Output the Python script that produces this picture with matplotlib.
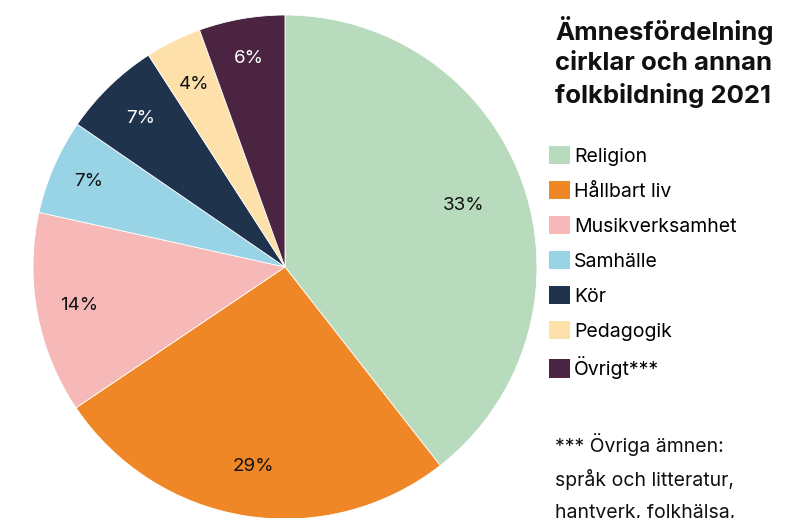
import numpy as np
import matplotlib
matplotlib.use("Agg")
import matplotlib.pyplot as plt
from matplotlib.patches import Patch

plt.rcParams['font.family'] = ['Inter', 'DejaVu Sans']

# data (wedge sizes as drawn, labels as printed)
categories = ["Religion", "Hållbart liv", "Musikverksamhet", "Samhälle", "Kör", "Pedagogik", "Övrigt***"]
shares = [39.4, 26.1, 12.9, 6.1, 6.3, 3.6, 5.5]
pct_labels = ["33%", "29%", "14%", "7%", "7%", "4%", "6%"]
colors = ["#b7dbbc", "#f08726", "#f7b9b8", "#98d3e6", "#20334d", "#fde0aa", "#4a2441"]
text_colors = ["#111111", "#111111", "#111111", "#111111", "white", "#111111", "white"]

title = "Ämnesfördelning\ncirklar och annan\nfolkbildning 2021"
footnote = ["*** Övriga ämnen:", "språk och litteratur,", "hantverk, folkhälsa,"]

fig = plt.figure(figsize=(8.04, 5.18), dpi=100)
ax = fig.add_axes([33/804, -1/518, 504/804, 504/518])
wedges, _ = ax.pie(shares, colors=colors, startangle=90, counterclock=False,
                   radius=1, wedgeprops=dict(linewidth=0.6, edgecolor="white"))
ax.set_xlim(-1, 1)
ax.set_ylim(-1, 1)
ax.set_aspect("equal")
ax.axis("off")

dists = [0.75, 0.8, 0.83, 0.85, 0.82, 0.81, 0.84]
for i, w in enumerate(wedges):
    mid = np.deg2rad((w.theta1 + w.theta2) / 2)
    d = dists[i]
    ax.text(d*np.cos(mid), d*np.sin(mid), pct_labels[i], ha="center", va="center",
            fontsize=13.5, color=text_colors[i])

fig.text(555/804, 1 - 16/518, title, ha="left", va="top", fontsize=18.5,
         fontweight="bold", linespacing=1.4, color="#111111")

handles = [Patch(facecolor=c, edgecolor="none") for c in colors]
fig.legend(handles, categories, loc="upper left", bbox_to_anchor=(549/804, 1 - 146/518),
           frameon=False, fontsize=14, handlelength=1.08, handleheight=1.08,
           handletextpad=0.2, labelspacing=0.78, borderpad=0, borderaxespad=0)

for k, line in enumerate(footnote):
    fig.text(555/804, 1 - (445 + 34*k)/518, line, ha="left", va="center",
             fontsize=14, color="#111111")

fig.savefig("out.png", dpi=100)
